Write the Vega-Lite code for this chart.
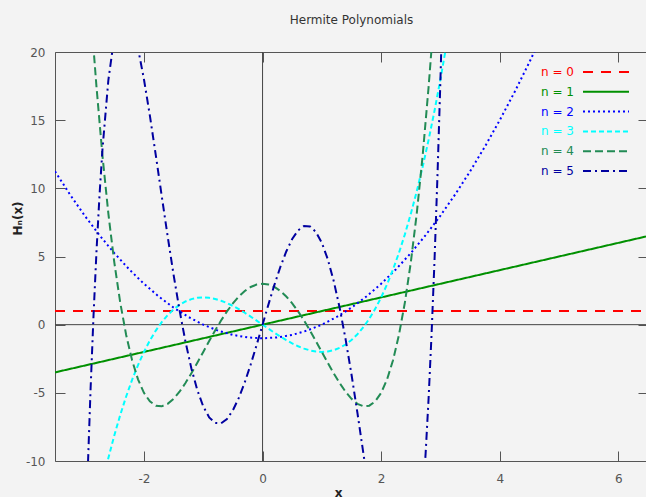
{
  "$schema": "https://vega.github.io/schema/vega-lite/v6.json",
  "width": 593,
  "height": 409,
  "autosize": "none",
  "padding": {"left": 55, "top": 52, "right": 0, "bottom": 36},
  "background": "#f3f3f3",
  "title": {"text": "Hermite Polynomials", "font": "DejaVu Sans", "fontSize": 12, "fontWeight": "normal", "color": "#333333", "baseline": "alphabetic", "offset": 10, "anchor": "middle"},
  "config": {
    "view": {"stroke": "#555555", "strokeWidth": 1},
    "axis": {"labelFont": "DejaVu Sans", "labelFontSize": 12, "labelColor": "#555555", "tickColor": "#555555", "tickWidth": 1, "tickSize": -10, "domain": false, "grid": false, "titleFont": "DejaVu Sans", "titleFontSize": 12, "titleColor": "#222222"}
  },
  "datasets": {
    "zx": [{"x0": 0}],
    "zy": [{"y0": 0}],
    "curves": [
      {"n": "n = 0", "x": -3.5, "y": 1}, {"n": "n = 0", "x": 6.5, "y": 1},
      {"n": "n = 1", "x": -3.5, "y": -3.5}, {"n": "n = 1", "x": 6.5, "y": 6.5},
      {"n": "n = 2", "x": -3.5, "y": 11.25}, {"n": "n = 2", "x": -3.25, "y": 9.5625}, {"n": "n = 2", "x": -3, "y": 8}, {"n": "n = 2", "x": -2.75, "y": 6.5625}, {"n": "n = 2", "x": -2.5, "y": 5.25}, {"n": "n = 2", "x": -2.25, "y": 4.0625}, {"n": "n = 2", "x": -2, "y": 3}, {"n": "n = 2", "x": -1.75, "y": 2.0625}, {"n": "n = 2", "x": -1.5, "y": 1.25}, {"n": "n = 2", "x": -1.25, "y": 0.5625}, {"n": "n = 2", "x": -1, "y": 0}, {"n": "n = 2", "x": -0.75, "y": -0.4375}, {"n": "n = 2", "x": -0.5, "y": -0.75}, {"n": "n = 2", "x": -0.25, "y": -0.9375}, {"n": "n = 2", "x": 0, "y": -1}, {"n": "n = 2", "x": 0.25, "y": -0.9375}, {"n": "n = 2", "x": 0.5, "y": -0.75}, {"n": "n = 2", "x": 0.75, "y": -0.4375}, {"n": "n = 2", "x": 1, "y": 0}, {"n": "n = 2", "x": 1.25, "y": 0.5625}, {"n": "n = 2", "x": 1.5, "y": 1.25}, {"n": "n = 2", "x": 1.75, "y": 2.0625}, {"n": "n = 2", "x": 2, "y": 3}, {"n": "n = 2", "x": 2.25, "y": 4.0625}, {"n": "n = 2", "x": 2.5, "y": 5.25}, {"n": "n = 2", "x": 2.75, "y": 6.5625}, {"n": "n = 2", "x": 3, "y": 8}, {"n": "n = 2", "x": 3.25, "y": 9.5625}, {"n": "n = 2", "x": 3.5, "y": 11.25}, {"n": "n = 2", "x": 3.75, "y": 13.0625}, {"n": "n = 2", "x": 4, "y": 15}, {"n": "n = 2", "x": 4.25, "y": 17.0625}, {"n": "n = 2", "x": 4.5, "y": 19.25}, {"n": "n = 2", "x": 4.75, "y": 21.5625},
      {"n": "n = 3", "x": -2.7, "y": -11.583}, {"n": "n = 3", "x": -2.6, "y": -9.776}, {"n": "n = 3", "x": -2.5, "y": -8.125}, {"n": "n = 3", "x": -2.4, "y": -6.624}, {"n": "n = 3", "x": -2.3, "y": -5.267}, {"n": "n = 3", "x": -2.2, "y": -4.048}, {"n": "n = 3", "x": -2.1, "y": -2.961}, {"n": "n = 3", "x": -2.0, "y": -2}, {"n": "n = 3", "x": -1.9, "y": -1.159}, {"n": "n = 3", "x": -1.8, "y": -0.432}, {"n": "n = 3", "x": -1.7, "y": 0.187}, {"n": "n = 3", "x": -1.6, "y": 0.704}, {"n": "n = 3", "x": -1.5, "y": 1.125}, {"n": "n = 3", "x": -1.4, "y": 1.456}, {"n": "n = 3", "x": -1.3, "y": 1.703}, {"n": "n = 3", "x": -1.2, "y": 1.872}, {"n": "n = 3", "x": -1.1, "y": 1.969}, {"n": "n = 3", "x": -1.0, "y": 2}, {"n": "n = 3", "x": -0.9, "y": 1.971}, {"n": "n = 3", "x": -0.8, "y": 1.888}, {"n": "n = 3", "x": -0.7, "y": 1.757}, {"n": "n = 3", "x": -0.6, "y": 1.584}, {"n": "n = 3", "x": -0.5, "y": 1.375}, {"n": "n = 3", "x": -0.4, "y": 1.136}, {"n": "n = 3", "x": -0.3, "y": 0.873}, {"n": "n = 3", "x": -0.2, "y": 0.592}, {"n": "n = 3", "x": -0.1, "y": 0.299}, {"n": "n = 3", "x": 0, "y": 0}, {"n": "n = 3", "x": 0.1, "y": -0.299}, {"n": "n = 3", "x": 0.2, "y": -0.592}, {"n": "n = 3", "x": 0.3, "y": -0.873}, {"n": "n = 3", "x": 0.4, "y": -1.136}, {"n": "n = 3", "x": 0.5, "y": -1.375}, {"n": "n = 3", "x": 0.6, "y": -1.584}, {"n": "n = 3", "x": 0.7, "y": -1.757}, {"n": "n = 3", "x": 0.8, "y": -1.888}, {"n": "n = 3", "x": 0.9, "y": -1.971}, {"n": "n = 3", "x": 1.0, "y": -2}, {"n": "n = 3", "x": 1.1, "y": -1.969}, {"n": "n = 3", "x": 1.2, "y": -1.872}, {"n": "n = 3", "x": 1.3, "y": -1.703}, {"n": "n = 3", "x": 1.4, "y": -1.456}, {"n": "n = 3", "x": 1.5, "y": -1.125}, {"n": "n = 3", "x": 1.6, "y": -0.704}, {"n": "n = 3", "x": 1.7, "y": -0.187}, {"n": "n = 3", "x": 1.8, "y": 0.432}, {"n": "n = 3", "x": 1.9, "y": 1.159}, {"n": "n = 3", "x": 2.0, "y": 2}, {"n": "n = 3", "x": 2.1, "y": 2.961}, {"n": "n = 3", "x": 2.2, "y": 4.048}, {"n": "n = 3", "x": 2.3, "y": 5.267}, {"n": "n = 3", "x": 2.4, "y": 6.624}, {"n": "n = 3", "x": 2.5, "y": 8.125}, {"n": "n = 3", "x": 2.6, "y": 9.776}, {"n": "n = 3", "x": 2.7, "y": 11.583}, {"n": "n = 3", "x": 2.8, "y": 13.552}, {"n": "n = 3", "x": 2.9, "y": 15.689}, {"n": "n = 3", "x": 3.0, "y": 18}, {"n": "n = 3", "x": 3.1, "y": 20.491},
      {"n": "n = 4", "x": -2.9, "y": 23.268}, {"n": "n = 4", "x": -2.85, "y": 20.24}, {"n": "n = 4", "x": -2.8, "y": 17.426}, {"n": "n = 4", "x": -2.7, "y": 12.404}, {"n": "n = 4", "x": -2.6, "y": 8.138}, {"n": "n = 4", "x": -2.5, "y": 4.563}, {"n": "n = 4", "x": -2.4, "y": 1.618}, {"n": "n = 4", "x": -2.3, "y": -0.756}, {"n": "n = 4", "x": -2.2, "y": -2.614}, {"n": "n = 4", "x": -2.1, "y": -4.012}, {"n": "n = 4", "x": -2.0, "y": -5}, {"n": "n = 4", "x": -1.9, "y": -5.628}, {"n": "n = 4", "x": -1.8, "y": -5.942}, {"n": "n = 4", "x": -1.7, "y": -5.988}, {"n": "n = 4", "x": -1.6, "y": -5.806}, {"n": "n = 4", "x": -1.5, "y": -5.438}, {"n": "n = 4", "x": -1.4, "y": -4.918}, {"n": "n = 4", "x": -1.3, "y": -4.284}, {"n": "n = 4", "x": -1.2, "y": -3.566}, {"n": "n = 4", "x": -1.1, "y": -2.796}, {"n": "n = 4", "x": -1.0, "y": -2}, {"n": "n = 4", "x": -0.9, "y": -1.204}, {"n": "n = 4", "x": -0.8, "y": -0.430}, {"n": "n = 4", "x": -0.7, "y": 0.300}, {"n": "n = 4", "x": -0.6, "y": 0.970}, {"n": "n = 4", "x": -0.5, "y": 1.563}, {"n": "n = 4", "x": -0.4, "y": 2.066}, {"n": "n = 4", "x": -0.3, "y": 2.468}, {"n": "n = 4", "x": -0.2, "y": 2.762}, {"n": "n = 4", "x": -0.1, "y": 2.940}, {"n": "n = 4", "x": 0, "y": 3}, {"n": "n = 4", "x": 0.1, "y": 2.940}, {"n": "n = 4", "x": 0.2, "y": 2.762}, {"n": "n = 4", "x": 0.3, "y": 2.468}, {"n": "n = 4", "x": 0.4, "y": 2.066}, {"n": "n = 4", "x": 0.5, "y": 1.563}, {"n": "n = 4", "x": 0.6, "y": 0.970}, {"n": "n = 4", "x": 0.7, "y": 0.300}, {"n": "n = 4", "x": 0.8, "y": -0.430}, {"n": "n = 4", "x": 0.9, "y": -1.204}, {"n": "n = 4", "x": 1.0, "y": -2}, {"n": "n = 4", "x": 1.1, "y": -2.796}, {"n": "n = 4", "x": 1.2, "y": -3.566}, {"n": "n = 4", "x": 1.3, "y": -4.284}, {"n": "n = 4", "x": 1.4, "y": -4.918}, {"n": "n = 4", "x": 1.5, "y": -5.438}, {"n": "n = 4", "x": 1.6, "y": -5.806}, {"n": "n = 4", "x": 1.7, "y": -5.988}, {"n": "n = 4", "x": 1.8, "y": -5.942}, {"n": "n = 4", "x": 1.9, "y": -5.628}, {"n": "n = 4", "x": 2.0, "y": -5}, {"n": "n = 4", "x": 2.1, "y": -4.012}, {"n": "n = 4", "x": 2.2, "y": -2.614}, {"n": "n = 4", "x": 2.3, "y": -0.756}, {"n": "n = 4", "x": 2.4, "y": 1.618}, {"n": "n = 4", "x": 2.5, "y": 4.563}, {"n": "n = 4", "x": 2.6, "y": 8.138}, {"n": "n = 4", "x": 2.7, "y": 12.404}, {"n": "n = 4", "x": 2.8, "y": 17.426}, {"n": "n = 4", "x": 2.85, "y": 20.24}, {"n": "n = 4", "x": 2.9, "y": 23.268},
      {"n": "n = 5", "x": -3.0, "y": -18}, {"n": "n = 5", "x": -2.95, "y": -10.94}, {"n": "n = 5", "x": -2.9, "y": -4.721}, {"n": "n = 5", "x": -2.85, "y": 0.713}, {"n": "n = 5", "x": -2.8, "y": 5.416}, {"n": "n = 5", "x": -2.75, "y": 9.442}, {"n": "n = 5", "x": -2.7, "y": 12.841}, {"n": "n = 5", "x": -2.6, "y": 17.946}, {"n": "n = 5", "x": -2.5, "y": 21.094}, {"n": "n = 5", "x": -2.4, "y": 22.614}, {"n": "n = 5", "x": -2.3, "y": 22.807}, {"n": "n = 5", "x": -2.2, "y": 21.944}, {"n": "n = 5", "x": -2.1, "y": 20.269}, {"n": "n = 5", "x": -2.0, "y": 18}, {"n": "n = 5", "x": -1.9, "y": 15.329}, {"n": "n = 5", "x": -1.8, "y": 12.424}, {"n": "n = 5", "x": -1.7, "y": 9.431}, {"n": "n = 5", "x": -1.6, "y": 6.474}, {"n": "n = 5", "x": -1.5, "y": 3.656}, {"n": "n = 5", "x": -1.4, "y": 1.062}, {"n": "n = 5", "x": -1.3, "y": -1.243}, {"n": "n = 5", "x": -1.2, "y": -3.208}, {"n": "n = 5", "x": -1.1, "y": -4.801}, {"n": "n = 5", "x": -1.0, "y": -6}, {"n": "n = 5", "x": -0.9, "y": -6.800}, {"n": "n = 5", "x": -0.8, "y": -7.208}, {"n": "n = 5", "x": -0.7, "y": -7.238}, {"n": "n = 5", "x": -0.6, "y": -6.918}, {"n": "n = 5", "x": -0.5, "y": -6.281}, {"n": "n = 5", "x": -0.4, "y": -5.370}, {"n": "n = 5", "x": -0.3, "y": -4.232}, {"n": "n = 5", "x": -0.2, "y": -2.920}, {"n": "n = 5", "x": -0.1, "y": -1.490}, {"n": "n = 5", "x": 0, "y": 0}, {"n": "n = 5", "x": 0.1, "y": 1.490}, {"n": "n = 5", "x": 0.2, "y": 2.920}, {"n": "n = 5", "x": 0.3, "y": 4.232}, {"n": "n = 5", "x": 0.4, "y": 5.370}, {"n": "n = 5", "x": 0.5, "y": 6.281}, {"n": "n = 5", "x": 0.6, "y": 6.918}, {"n": "n = 5", "x": 0.7, "y": 7.238}, {"n": "n = 5", "x": 0.8, "y": 7.208}, {"n": "n = 5", "x": 0.9, "y": 6.800}, {"n": "n = 5", "x": 1.0, "y": 6}, {"n": "n = 5", "x": 1.1, "y": 4.801}, {"n": "n = 5", "x": 1.2, "y": 3.208}, {"n": "n = 5", "x": 1.3, "y": 1.243}, {"n": "n = 5", "x": 1.4, "y": -1.062}, {"n": "n = 5", "x": 1.5, "y": -3.656}, {"n": "n = 5", "x": 1.6, "y": -6.474}, {"n": "n = 5", "x": 1.7, "y": -9.431}, {"n": "n = 5", "x": 1.8, "y": -12.424}, {"n": "n = 5", "x": 1.9, "y": -15.329}, {"n": "n = 5", "x": 2.0, "y": -18}, {"n": "n = 5", "x": 2.1, "y": -20.269}, {"n": "n = 5", "x": 2.2, "y": -21.944}, {"n": "n = 5", "x": 2.3, "y": -22.807}, {"n": "n = 5", "x": 2.4, "y": -22.614}, {"n": "n = 5", "x": 2.5, "y": -21.094}, {"n": "n = 5", "x": 2.6, "y": -17.946}, {"n": "n = 5", "x": 2.7, "y": -12.841}, {"n": "n = 5", "x": 2.75, "y": -9.442}, {"n": "n = 5", "x": 2.8, "y": -5.416}, {"n": "n = 5", "x": 2.85, "y": -0.713}, {"n": "n = 5", "x": 2.9, "y": 4.721}, {"n": "n = 5", "x": 2.95, "y": 10.94}, {"n": "n = 5", "x": 3.0, "y": 18}, {"n": "n = 5", "x": 3.05, "y": 25.96}
    ]
  },
  "layer": [
    {
      "data": {"name": "zx"},
      "mark": {"type": "rule", "color": "#444444", "strokeWidth": 1},
      "encoding": {
        "x": {"field": "x0", "type": "quantitative", "scale": {"domain": [-3.5, 6.5], "nice": false, "zero": false}, "axis": {"orient": "top", "labels": false, "title": null, "values": [-2, 0, 2, 4, 6]}}
      }
    },
    {
      "data": {"name": "zy"},
      "mark": {"type": "rule", "color": "#444444", "strokeWidth": 1},
      "encoding": {
        "y": {"field": "y0", "type": "quantitative", "scale": {"domain": [-10, 20], "nice": false, "zero": false}, "axis": {"orient": "right", "labels": false, "title": null, "values": [-10, -5, 0, 5, 10, 15, 20]}}
      }
    },
    {
      "data": {"name": "curves"},
      "mark": {"type": "line", "strokeWidth": 2, "clip": true},
      "encoding": {
        "x": {"field": "x", "type": "quantitative", "scale": {"domain": [-3.5, 6.5], "nice": false, "zero": false}, "axis": {"orient": "bottom", "values": [-2, 0, 2, 4, 6], "labelPadding": 22, "labelExpr": "replace(datum.label, '−', '-')", "title": "x", "titleFontWeight": "bold", "titleX": 283, "titleY": 35, "titleBaseline": "alphabetic"}},
        "y": {"field": "y", "type": "quantitative", "scale": {"domain": [-10, 20], "nice": false, "zero": false}, "axis": {"orient": "left", "values": [-10, -5, 0, 5, 10, 15, 20], "labelPadding": 20, "labelExpr": "replace(datum.label, '−', '-')", "title": "Hₙ(x)", "titleFontWeight": "bold", "titleX": -38, "titleY": 166, "titleBaseline": "middle", "titleAlign": "center", "titleAngle": -90}},
        "color": {"field": "n", "type": "nominal", "scale": {"domain": ["n = 0", "n = 1", "n = 2", "n = 3", "n = 4", "n = 5"], "range": ["#ff0000", "#009000", "#0000ff", "#00ffff", "#228b55", "#0000a0"]},
          "legend": {"title": null, "orient": "none", "legendX": 545, "legendY": 14, "symbolType": "M-4.6,0H4.6", "symbolSize": 100, "symbolStrokeWidth": 2, "labelAlign": "right", "labelOffset": -38, "labelFont": "DejaVu Sans", "labelFontSize": 12, "labelLimit": 200, "rowPadding": 7.8, "encode": {"labels": {"update": {"fill": {"scale": "color", "field": "value"}}}}}},
        "strokeDash": {"field": "n", "type": "nominal", "scale": {"domain": ["n = 0", "n = 1", "n = 2", "n = 3", "n = 4", "n = 5"], "range": [[10, 8], [1, 0], [2, 3], [5, 3], [8, 4], [8, 4, 2, 4]]},
          "legend": {"title": null, "orient": "none", "legendX": 545, "legendY": 14, "symbolType": "M-4.6,0H4.6", "symbolSize": 100, "symbolStrokeWidth": 2, "labelAlign": "right", "labelOffset": -38, "labelFont": "DejaVu Sans", "labelFontSize": 12, "labelLimit": 200, "rowPadding": 7.8, "encode": {"labels": {"update": {"fill": {"scale": "color", "field": "value"}}}}}}
      }
    }
  ],
  "resolve": {"axis": {"x": "independent", "y": "independent"}}
}
